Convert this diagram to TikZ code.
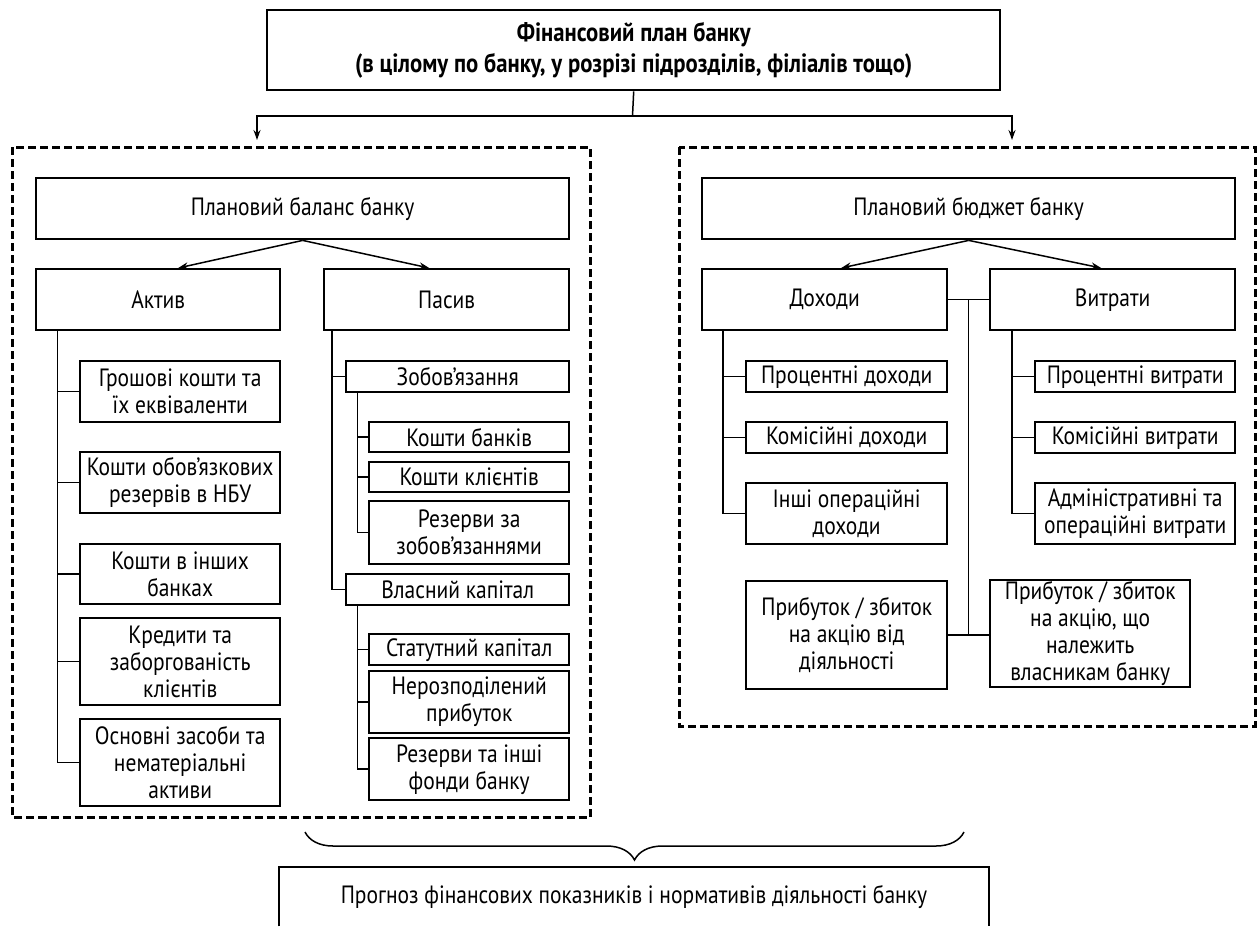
\documentclass[tikz,border=0pt]{standalone}
\usepackage{fontspec}
\setmainfont{PT Sans}[FakeStretch=0.86]
\usetikzlibrary{arrows.meta,calc,decorations.pathreplacing}
\begin{document}
\begin{tikzpicture}[x=1pt,y=-1pt,
  every node/.style={font=\fontsize{25}{27}\selectfont},
  bx/.style={draw, line width=2.4pt, inner sep=0pt, anchor=north west, align=center},
  conn/.style={line width=1.5pt},
  arr/.style={line width=1.5pt,-{Stealth[length=10pt,width=7pt]}},
  dsh/.style={line width=3pt, dash pattern=on 8pt off 4pt},
  brc/.style={line width=1.5pt, decorate, decoration={brace, mirror, amplitude=28pt}}
]
\useasboundingbox (0,0) rectangle (1257,926);

% top
\node[bx,minimum width=733pt,minimum height=80pt,font=\bfseries\fontsize{26.4}{31}\selectfont] (top) at (266,9)
  {Фінансовий план банку\\(в цілому по банку, у розрізі підрозділів, філіалів тощо)};

% frames
\draw[dsh] (12.5,147) rectangle (590,817);
\draw[dsh] (679,147) rectangle (1255,726);

% left part
\node[bx,minimum width=533pt,minimum height=61pt] (bal) at (35,177) {Плановий баланс банку};
\node[bx,minimum width=244pt,minimum height=61pt] (akt) at (35,268) {Актив};
\node[bx,minimum width=245pt,minimum height=61pt] (pas) at (323,268) {Пасив};

\node[bx,minimum width=200pt,minimum height=61pt] (a1) at (79,360) {Грошові кошти та\\їх еквіваленти};
\node[bx,minimum width=200pt,minimum height=61pt] (a2) at (79,451) {Кошти обов’язкових\\резервів в НБУ};
\node[bx,minimum width=200pt,minimum height=60pt] (a3) at (79,543) {Кошти в інших\\банках};
\node[bx,minimum width=200pt,minimum height=87pt] (a4) at (79,617) {Кредити та\\заборгованість\\клієнтів};
\node[bx,minimum width=200pt,minimum height=87pt] (a5) at (79,718) {Основні засоби та\\нематеріальні\\активи};

\node[bx,minimum width=223pt,minimum height=31pt] (p1) at (345,360) {Зобов’язання};
\node[bx,minimum width=200pt,minimum height=30pt] (p11) at (368,421) {Кошти банків};
\node[bx,minimum width=200pt,minimum height=30pt] (p12) at (368,461) {Кошти клієнтів};
\node[bx,minimum width=200pt,minimum height=63pt] (p13) at (368,500) {Резерви за\\зобов’язаннями};
\node[bx,minimum width=223pt,minimum height=31pt] (p2) at (345,573) {Власний капітал};
\node[bx,minimum width=200pt,minimum height=31pt] (p21) at (368,633) {Статутний капітал};
\node[bx,minimum width=200pt,minimum height=62pt] (p22) at (368,670) {Нерозподілений\\прибуток};
\node[bx,minimum width=200pt,minimum height=62pt] (p23) at (368,737) {Резерви та інші\\фонди банку};

% right part
\node[bx,minimum width=533pt,minimum height=61pt] (bud) at (701,177) {Плановий бюджет банку};
\node[bx,minimum width=245pt,minimum height=61pt] (doh) at (701,268) {Доходи};
\node[bx,minimum width=245pt,minimum height=61pt] (vyt) at (989,268) {Витрати};

\node[bx,minimum width=201pt,minimum height=31pt] (d1) at (745,360) {Процентні доходи};
\node[bx,minimum width=201pt,minimum height=31pt] (d2) at (745,421) {Комісійні доходи};
\node[bx,minimum width=201pt,minimum height=61pt] (d3) at (745,482) {Інші операційні\\доходи};
\node[bx,minimum width=200pt,minimum height=31pt] (v1) at (1034,360) {Процентні витрати};
\node[bx,minimum width=200pt,minimum height=31pt] (v2) at (1034,421) {Комісійні витрати};
\node[bx,minimum width=200pt,minimum height=61pt] (v3) at (1034,482) {Адміністративні та\\операційні витрати};

\node[bx,minimum width=201pt,minimum height=108pt] (pr1) at (745,580) {Прибуток / збиток\\на акцію від\\діяльності};
\node[bx,minimum width=200pt,minimum height=107pt] (pr2) at (989,579) {Прибуток / збиток\\на акцію, що\\належить\\власникам банку};

% bottom
\node[anchor=north west,minimum width=709.5pt,minimum height=59pt,inner sep=0pt] (prog) at (279,867)
  {Прогноз фінансових показників і нормативів діяльності банку};
\draw[line width=2.4pt] (prog.south west) |- (prog.north east) -- (prog.south east);

% connectors
\coordinate (hc) at (632.5,116);
\coordinate (lt) at (257,140);
\coordinate (rt) at (1012,140);
\draw[conn] (top.south) -- (hc);
\draw[arr] (hc) -| (lt);
\draw[arr] (hc) -| (rt);

\draw[arr] (bal.south) -- ([xshift=20pt]akt.north);
\draw[arr] (bal.south) -- ([xshift=-17.5pt]pas.north);
\draw[arr] (bud.south) -- ([xshift=16.5pt]doh.north);
\draw[arr] (bud.south) -- ([xshift=-11.5pt]vyt.north);

\foreach \n in {a1,a2,a3,a4,a5}
  \draw[conn] ([xshift=22.6pt]akt.south west) |- (\n.west);
\foreach \n in {p1,p2}
  \draw[conn] ([xshift=9pt]pas.south west) |- (\n.west);
\foreach \n in {p11,p12,p13}
  \draw[conn] ([xshift=12.6pt]p1.south west) |- (\n.west);
\foreach \n in {p21,p22,p23}
  \draw[conn] ([xshift=12.6pt]p2.south west) |- (\n.west);
\foreach \n in {d1,d2,d3}
  \draw[conn] ([xshift=22pt]doh.south west) |- (\n.west);
\foreach \n in {v1,v2,v3}
  \draw[conn] ([xshift=23pt]vyt.south west) |- (\n.west);

\draw[conn] (doh.east) -- (vyt.west);
\draw[conn] (pr1.east) -- (pr1.east -| pr2.west);
\draw[conn] ($(doh.east)!.5!(vyt.west)$) -- ($(pr1.east)!.5!(pr1.east -| pr2.west)$);

% brace
\coordinate (bl) at (305,832);
\coordinate (br) at (964,832);
\draw[brc] (bl) -- (br);
\end{tikzpicture}
\end{document}
